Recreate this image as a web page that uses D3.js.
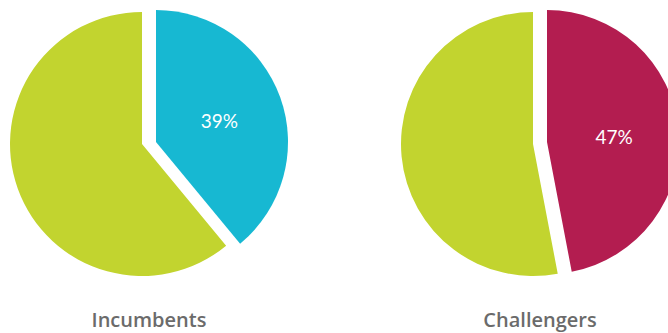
<!DOCTYPE html>
<html>
<head>
<meta charset="utf-8">
<script src="https://cdn.jsdelivr.net/npm/d3@7"></script>
<style>
  html, body { margin: 0; padding: 0; background: #ffffff; }
  svg { display: block; }
</style>
</head>
<body>
<svg id="chart" width="668" height="333"></svg>
<script>
// Share of the highlighted group in each panel (percent)
const groups = ["Incumbents", "Challengers"];
const shares = [39, 47];
const highlightColors = ["#17b8d2", "#b31d50"];
const restColor = "#c2d42f";

const width = 668, height = 333;
const radius = 132;
const centersX = [142, 533];
const centerY = 144;
const explode = [14, -2];   // offset of the highlighted slice

const svg = d3.select("#chart");

const pie = d3.pie().sort(null).value(d => d.value).startAngle(0).endAngle(2 * Math.PI);
const arc = d3.arc().innerRadius(0).outerRadius(radius);
const labelArc = d3.arc().innerRadius(radius * 1.02).outerRadius(radius * 1.02);

groups.forEach((name, i) => {
  const slices = pie([
    { key: "share", value: shares[i], color: highlightColors[i] },
    { key: "rest", value: 100 - shares[i], color: restColor }
  ]);

  const g = svg.append("g").attr("transform", `translate(${centersX[i]},${centerY})`);

  g.selectAll("path")
    .data(slices)
    .join("path")
    .attr("d", arc)
    .attr("fill", d => d.data.color)
    .attr("transform", d => d.data.key === "share" ? `translate(${explode[0]},${explode[1]})` : null);

  const s = slices[0];
  const c = labelArc.centroid(s).map(v => v / 2);
  g.append("text")
    .attr("x", c[0] + explode[0])
    .attr("y", c[1] + explode[1] + 1)
    .attr("text-anchor", "middle")
    .attr("dominant-baseline", "central")
    .attr("fill", "#ffffff")
    .style("font-family", "Lato, 'Open Sans', sans-serif")
    .style("font-size", "19px")
    .style("font-weight", 400)
    .text(shares[i] + "%");

  svg.append("text")
    .attr("x", centersX[i] + 7)
    .attr("y", 327)
    .attr("text-anchor", "middle")
    .attr("fill", "#6b6b6b")
    .style("font-family", "'Open Sans', Lato, sans-serif")
    .style("font-size", "20px")
    .style("font-weight", 600)
    .text(name);
});
</script>
</body>
</html>
